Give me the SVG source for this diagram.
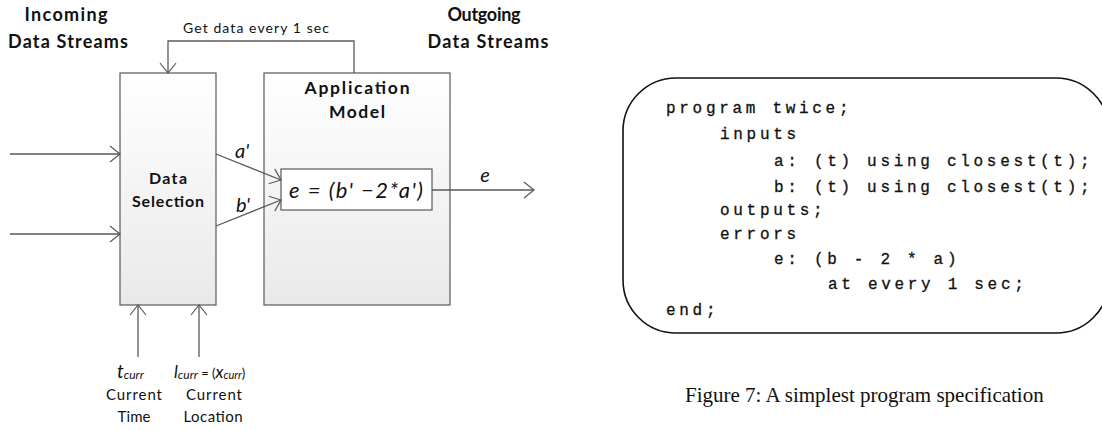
<svg xmlns="http://www.w3.org/2000/svg" width="1102" height="430" viewBox="0 0 1102 430">
  <style>
    .lbl { font-family: Lato, "Open Sans", "Liberation Sans", sans-serif; fill: #111; }
    .bold { font-weight: bold; }
    .it { font-style: italic; }
    .wire { fill: none; stroke: #595959; stroke-width: 1.3; }
    .box { stroke: #595959; stroke-width: 1.2; }
    .code { font-family: "Liberation Mono", "DejaVu Sans Mono", monospace; font-size: 16px; letter-spacing: 3.7px; fill: #111; stroke: #111; stroke-width: 0.3; }
    .cap { font-family: "Liberation Serif", "Times New Roman", serif; font-size: 21px; fill: #111; }
  </style>
  <defs>
    <linearGradient id="shade" x1="0" y1="0" x2="0" y2="1">
      <stop offset="0" stop-color="#ffffff"/>
      <stop offset="1" stop-color="#e9e9e9"/>
    </linearGradient>
    <marker id="arr" viewBox="0 0 12 20" refX="11" refY="10" markerWidth="12" markerHeight="20" orient="auto" markerUnits="userSpaceOnUse">
      <path d="M1,2 L11,10 L1,18" fill="none" stroke="#595959" stroke-width="1.2"/>
    </marker>
  </defs>
  <rect width="1102" height="430" fill="#ffffff"/>

  <!-- headings -->
  <g id="incoming">
    <text class="lbl bold" x="66" y="21" font-size="18" text-anchor="middle" textLength="83" lengthAdjust="spacing">Incoming</text>
    <text class="lbl bold" x="68" y="48" font-size="18" text-anchor="middle" textLength="120" lengthAdjust="spacing">Data Streams</text>
  </g>
  <g id="outgoing">
    <text class="lbl bold" x="484" y="21" font-size="18" text-anchor="middle" textLength="73" lengthAdjust="spacing">Outgoing</text>
    <text class="lbl bold" x="488" y="48" font-size="18" text-anchor="middle" textLength="121" lengthAdjust="spacing">Data Streams</text>
  </g>

  <!-- processing blocks -->
  <g id="data-selection">
    <rect class="box" x="120" y="73" width="96" height="232" fill="url(#shade)"/>
    <text class="lbl bold" x="168" y="184" font-size="16" text-anchor="middle" textLength="38" lengthAdjust="spacing">Data</text>
    <text class="lbl bold" x="168" y="207" font-size="16" text-anchor="middle" textLength="72" lengthAdjust="spacing">Selection</text>
  </g>
  <g id="application-model">
    <rect class="box" x="264" y="73" width="186" height="232" fill="url(#shade)"/>
    <text class="lbl bold" x="357" y="94" font-size="17.5" text-anchor="middle" textLength="105" lengthAdjust="spacing">Application</text>
    <text class="lbl bold" x="357" y="118" font-size="17.5" text-anchor="middle" textLength="56" lengthAdjust="spacing">Model</text>
  </g>
  <g id="formula">
    <rect class="box" x="281" y="169" width="151" height="41" fill="#ffffff"/>
    <text class="lbl it" x="356" y="198" font-size="22" text-anchor="middle" textLength="134" lengthAdjust="spacing">e = (b' −2*a')</text>
  </g>

  <!-- connectors -->
  <g id="connectors">
    <path class="wire" d="M354,73 V41 H168 V73" marker-end="url(#arr)"/>
    <line class="wire" x1="10" y1="154" x2="120" y2="154" marker-end="url(#arr)"/>
    <line class="wire" x1="10" y1="234" x2="120" y2="234" marker-end="url(#arr)"/>
    <line class="wire" x1="216" y1="154" x2="281" y2="180" marker-end="url(#arr)"/>
    <line class="wire" x1="216" y1="226" x2="281" y2="200" marker-end="url(#arr)"/>
    <line class="wire" x1="432" y1="190" x2="534" y2="190" marker-end="url(#arr)"/>
    <line class="wire" x1="138" y1="357" x2="138" y2="305" marker-end="url(#arr)"/>
    <line class="wire" x1="199" y1="357" x2="199" y2="305" marker-end="url(#arr)"/>
  </g>

  <!-- connector labels -->
  <g id="labels">
    <text class="lbl" x="256" y="33" font-size="14" text-anchor="middle" textLength="146" lengthAdjust="spacing">Get data every 1 sec</text>
    <text class="lbl it" x="242" y="158" font-size="20" text-anchor="middle">a'</text>
    <text class="lbl it" x="243" y="212" font-size="20" text-anchor="middle">b'</text>
    <text class="lbl it" x="485" y="182" font-size="20" text-anchor="middle">e</text>
    <text class="lbl it" x="117" y="378" font-size="19">t<tspan font-size="12" dy="1">curr</tspan></text>
    <text class="lbl it" x="174" y="378" font-size="17">l<tspan font-size="12" dy="1">curr</tspan><tspan font-style="normal" font-size="13" dy="-1"> = (</tspan>x<tspan font-size="11" dy="1">curr</tspan><tspan font-style="normal" font-size="13" dy="-1">)</tspan></text>
    <text class="lbl" x="134" y="400" font-size="15" text-anchor="middle" textLength="56" lengthAdjust="spacing">Current</text>
    <text class="lbl" x="134" y="422" font-size="15" text-anchor="middle" textLength="33" lengthAdjust="spacing">Time</text>
    <text class="lbl" x="214" y="400" font-size="15" text-anchor="middle" textLength="56" lengthAdjust="spacing">Current</text>
    <text class="lbl" x="213" y="422" font-size="15" text-anchor="middle" textLength="59" lengthAdjust="spacing">Location</text>
  </g>

  <!-- program listing -->
  <g id="listing">
    <rect x="623" y="78" width="486" height="255" rx="53" ry="53" fill="#ffffff" stroke="#111" stroke-width="1.6"/>
    <text class="code" x="666" y="113">program twice;</text>
    <text class="code" x="720" y="139">inputs</text>
    <text class="code" x="774" y="166">a: (t) using closest(t);</text>
    <text class="code" x="774" y="192">b: (t) using closest(t);</text>
    <text class="code" x="720" y="215">outputs;</text>
    <text class="code" x="720" y="239">errors</text>
    <text class="code" x="774" y="264">e: (b - 2 * a)</text>
    <text class="code" x="828" y="289">at every 1 sec;</text>
    <text class="code" x="666" y="315">end;</text>
  </g>
  <text class="cap" x="685" y="402">Figure 7: A simplest program specification</text>
</svg>
